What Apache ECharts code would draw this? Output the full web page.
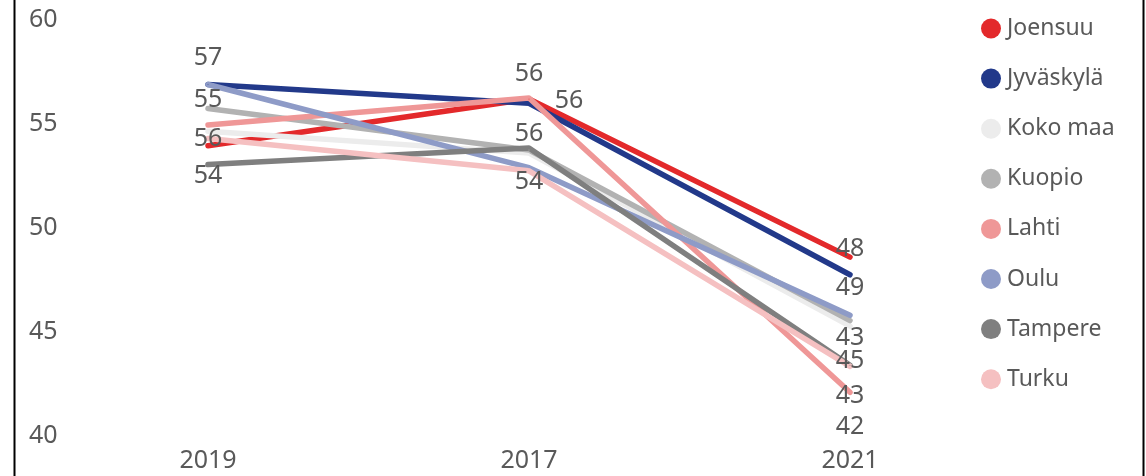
<!DOCTYPE html>
<html>
<head>
<meta charset="utf-8">
<script src="https://cdn.jsdelivr.net/npm/echarts@6/dist/echarts.min.js"></script>
<style>
  html, body { margin: 0; padding: 0; background: #fff; }
  #chart { width: 1146px; height: 476px; }
</style>
</head>
<body>
<div id="chart"></div>
<script>
var years = ['2019', '2017', '2021'];
var cities = ['Joensuu', 'Jyväskylä', 'Koko maa', 'Kuopio', 'Lahti', 'Oulu', 'Tampere', 'Turku'];
var joensuu = [53.95, 56.2, 48.6];
var jyvaskyla = [56.9, 56.0, 47.75];
var kokoMaa = [54.65, 53.6, 45.28];
var kuopio = [55.75, 53.75, 45.55];
var lahti = [54.95, 56.25, 42.1];
var oulu = [56.9, 52.9, 45.8];
var tampere = [53.05, 53.85, 43.4];
var turku = [54.3, 52.75, 43.35];
var values = [joensuu, jyvaskyla, kokoMaa, kuopio, lahti, oulu, tampere, turku];
// data label texts as shown in the picture (null = no label)
var joensuuLabels = ['56', '56', '48'];
var jyvaskylaLabels = ['57', null, '49'];
var kokoMaaLabels = [null, null, '43'];
var kuopioLabels = ['55', null, null];
var lahtiLabels = [null, '56', '43'];
var ouluLabels = [null, null, null];
var tampereLabels = ['54', '56', '42'];
var turkuLabels = [null, '54', '45'];
var labelTexts = [joensuuLabels, jyvaskylaLabels, kokoMaaLabels, kuopioLabels, lahtiLabels, ouluLabels, tampereLabels, turkuLabels];

var colors = ['#e3292b', '#22398a', '#ececec', '#b2b2b2', '#ef9797', '#8e9bc7', '#7f7f7f', '#f5c0c1'];
// label offsets (pixels) relative to their point
var labelOffsets = [
    [[0, -7], [40, 2], [0, -8]],
    [[0, -27], null, [0, 13]],
    [null, null, [0, 12]],
    [[0, -9], null, null],
    [null, [0, -24], [0, 4]],
    [null, null, null],
    [[0, 11], [0, -14], [0, 62]],
    [null, [0, 11], [0, -5]]
];

var chart = echarts.init(document.getElementById('chart'));
var textColor = '#595959';

var series = cities.map(function (name, s) {
    return {
        name: name,
        type: 'line',
        symbol: 'circle',
        symbolSize: 1,
        showSymbol: true,
        lineStyle: { width: 5.5, color: colors[s], cap: 'round', join: 'round' },
        itemStyle: { color: colors[s] },
        emphasis: { disabled: true },
        data: values[s].map(function (v, i) {
            var txt = labelTexts[s][i];
            var item = { value: v };
            if (txt) {
                item.label = {
                    show: true,
                    position: 'inside',
                    offset: labelOffsets[s][i],
                    formatter: txt,
                    color: textColor,
                    fontSize: 25,
                    fontFamily: 'Noto Sans'
                };
            }
            return item;
        })
    };
});

chart.setOption({
    animation: false,
    color: colors,
    grid: { left: 47.5, right: 135.5, top: 20, bottom: 40 },
    legend: {
        orient: 'vertical',
        left: 976,
        top: 12,
        icon: 'circle',
        itemWidth: 20,
        itemHeight: 20,
        itemGap: 27.1,
        data: cities,
        textStyle: { color: textColor, fontSize: 23, fontFamily: 'Noto Sans', lineHeight: 20, padding: [0, 0, 0, 1] }
    },
    xAxis: {
        type: 'category',
        data: years,
        axisLine: { show: false },
        axisTick: { show: false },
        axisLabel: { color: textColor, fontSize: 25, fontFamily: 'Noto Sans', margin: 12 }
    },
    yAxis: {
        type: 'value',
        min: 40,
        max: 60,
        interval: 5,
        splitLine: { show: false },
        axisLine: { show: false },
        axisTick: { show: false },
        axisLabel: { color: textColor, fontSize: 25, fontFamily: 'Noto Sans', align: 'left', margin: 18.5 }
    },
    graphic: [
        { type: 'line', shape: { x1: 14.5, y1: 0, x2: 14.5, y2: 476 }, style: { stroke: '#000', lineWidth: 2 } },
        { type: 'line', shape: { x1: 1143.5, y1: 0, x2: 1143.5, y2: 476 }, style: { stroke: '#000', lineWidth: 2 } }
    ],
    series: series
});
</script>
</body>
</html>
